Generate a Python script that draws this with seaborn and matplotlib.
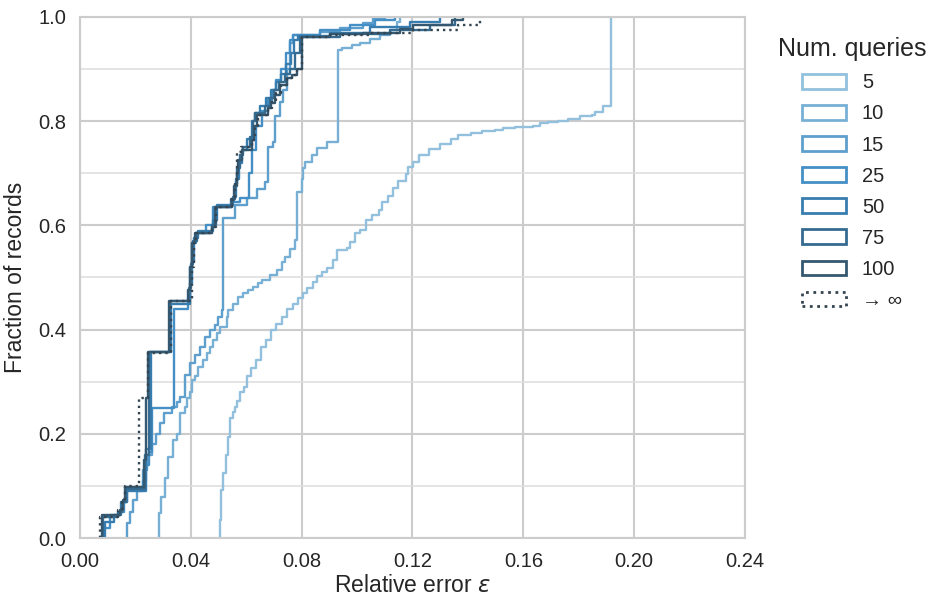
import numpy as np
import pandas as pd
import matplotlib
matplotlib.use("Agg")
import matplotlib.pyplot as plt
from matplotlib.patches import Patch
import seaborn as sns

# Query counts (legend order) and their labels
queries = ["5", "10", "15", "25", "50", "75", "100", "inf"]
query_labels = ["5", "10", "15", "25", "50", "75", "100", "\u2192 \u221e"]

# Per-configuration relative errors (distinct values) and the cumulative
# fraction of records reached at each value.
err_5 = [0.0504, 0.0509, 0.0518, 0.0527, 0.0534, 0.0543, 0.0552, 0.0559, 0.0568, 0.0577,
         0.0592, 0.0603, 0.0617, 0.0635, 0.0653, 0.0671, 0.0689, 0.0707, 0.0729, 0.0747,
         0.0769, 0.0787, 0.0805, 0.0819, 0.0841, 0.0855, 0.0873, 0.0891, 0.0913, 0.0928,
         0.0964, 0.0974, 0.0993, 0.1011, 0.1032, 0.1054, 0.1079, 0.1090, 0.1112, 0.1130,
         0.1148, 0.1177, 0.1184, 0.1202, 0.1224, 0.1260, 0.1299, 0.1339, 0.1364, 0.1411,
         0.1451, 0.1498, 0.1527, 0.1570, 0.1635, 0.1660, 0.1689, 0.1725, 0.1761, 0.1805,
         0.1848, 0.1859, 0.1888, 0.1915]
cum_5 = [0.035, 0.092, 0.125, 0.16, 0.194, 0.23, 0.242, 0.252, 0.263, 0.28,
         0.29, 0.31, 0.326, 0.342, 0.367, 0.38, 0.40, 0.41, 0.425, 0.44,
         0.45, 0.46, 0.47, 0.48, 0.492, 0.502, 0.51, 0.518, 0.534, 0.553,
         0.556, 0.569, 0.585, 0.591, 0.61, 0.62, 0.63, 0.645, 0.656, 0.671,
         0.685, 0.699, 0.712, 0.722, 0.735, 0.746, 0.757, 0.766, 0.773, 0.778,
         0.782, 0.784, 0.786, 0.788, 0.791, 0.796, 0.798, 0.80, 0.804, 0.809,
         0.812, 0.818, 0.83, 1.0]

err_10 = [0.0285, 0.0292, 0.0307, 0.0319, 0.0337, 0.0349, 0.0361, 0.0379, 0.0385, 0.0397,
          0.0403, 0.0415, 0.0427, 0.0445, 0.0457, 0.0469, 0.0481, 0.0493, 0.0505, 0.0529,
          0.0535, 0.0553, 0.0571, 0.0589, 0.0607, 0.0625, 0.0642, 0.0657, 0.0686, 0.0711,
          0.0729, 0.0740, 0.0758, 0.0776, 0.0783, 0.0800, 0.0806, 0.0812, 0.0836, 0.0854,
          0.0890, 0.0931, 0.0944, 0.0981, 0.1011, 0.1047, 0.1083, 0.1119, 0.1143, 0.1155]
cum_10 = [0.048, 0.079, 0.115, 0.156, 0.188, 0.20, 0.24, 0.252, 0.268, 0.28,
          0.303, 0.31, 0.329, 0.342, 0.355, 0.367, 0.38, 0.393, 0.405, 0.425,
          0.438, 0.45, 0.463, 0.47, 0.476, 0.482, 0.49, 0.495, 0.505, 0.515,
          0.53, 0.54, 0.555, 0.572, 0.664, 0.69, 0.71, 0.722, 0.735, 0.749,
          0.76, 0.936, 0.94, 0.946, 0.95, 0.958, 0.965, 0.975, 0.99, 1.0]

err_15 = [0.0169, 0.0180, 0.0191, 0.0205, 0.0228, 0.0241, 0.0247, 0.0260, 0.0274, 0.0289,
          0.0303, 0.0331, 0.0349, 0.0361, 0.0379, 0.0397, 0.0415, 0.0433, 0.0451, 0.0469,
          0.0487, 0.0499, 0.0511, 0.0516, 0.0559, 0.0602, 0.0638, 0.0668, 0.0679, 0.0697,
          0.0704, 0.0722, 0.0733, 0.0746, 0.0758, 0.0769, 0.0866, 0.0938, 0.1021, 0.1057,
          0.1101]
cum_15 = [0.028, 0.05, 0.073, 0.09, 0.13, 0.14, 0.16, 0.18, 0.20, 0.22,
          0.24, 0.252, 0.262, 0.271, 0.313, 0.336, 0.351, 0.367, 0.386, 0.40,
          0.409, 0.425, 0.438, 0.614, 0.64, 0.652, 0.67, 0.684, 0.751, 0.76,
          0.81, 0.837, 0.86, 0.90, 0.95, 0.965, 0.972, 0.979, 0.988, 0.998,
          1.0]

err_25 = [0.0087, 0.0108, 0.0144, 0.0159, 0.0170, 0.0227, 0.0238, 0.0249, 0.0260, 0.0339,
          0.0390, 0.0397, 0.0404, 0.0419, 0.0455, 0.0480, 0.0549, 0.0577, 0.0610, 0.0621,
          0.0635, 0.0657, 0.0679, 0.0693, 0.0707, 0.0725, 0.0743, 0.0758, 0.0769, 0.0866,
          0.0974, 0.1065, 0.1137]
cum_25 = [0.02, 0.044, 0.05, 0.07, 0.095, 0.11, 0.14, 0.165, 0.25, 0.44,
          0.46, 0.52, 0.566, 0.585, 0.60, 0.636, 0.645, 0.652, 0.70, 0.745,
          0.79, 0.82, 0.84, 0.86, 0.88, 0.90, 0.93, 0.955, 0.965, 0.975,
          0.985, 0.995, 1.0]

err_50 = [0.0090, 0.0123, 0.0148, 0.0170, 0.0238, 0.0256, 0.0328, 0.0397, 0.0404, 0.0411,
          0.0426, 0.0480, 0.0494, 0.0552, 0.0563, 0.0574, 0.0585, 0.0603, 0.0621, 0.0632,
          0.0650, 0.0671, 0.0689, 0.0707, 0.0725, 0.0743, 0.0762, 0.0772, 0.0787, 0.0902,
          0.1047, 0.1191, 0.1299]
cum_50 = [0.03, 0.045, 0.07, 0.09, 0.17, 0.357, 0.45, 0.49, 0.53, 0.575,
          0.59, 0.61, 0.64, 0.655, 0.69, 0.72, 0.745, 0.765, 0.80, 0.815,
          0.83, 0.845, 0.86, 0.875, 0.89, 0.91, 0.93, 0.955, 0.963, 0.97,
          0.98, 0.99, 1.0]

err_75 = [0.0083, 0.0137, 0.0152, 0.0166, 0.0235, 0.0249, 0.0325, 0.0393, 0.0401, 0.0408,
          0.0422, 0.0476, 0.0491, 0.0545, 0.0559, 0.0568, 0.0577, 0.0588, 0.0614, 0.0624,
          0.0633, 0.0668, 0.0686, 0.0700, 0.0718, 0.0740, 0.0758, 0.0776, 0.0794, 0.0938,
          0.1119, 0.1263, 0.1353]
cum_75 = [0.04, 0.05, 0.07, 0.095, 0.16, 0.357, 0.455, 0.48, 0.525, 0.57,
          0.585, 0.60, 0.636, 0.65, 0.68, 0.71, 0.735, 0.75, 0.77, 0.80,
          0.815, 0.83, 0.845, 0.86, 0.875, 0.89, 0.90, 0.93, 0.962, 0.968,
          0.975, 0.985, 1.0]

err_100 = [0.0079, 0.0144, 0.0155, 0.0162, 0.0231, 0.0238, 0.0245, 0.0321, 0.0390, 0.0397,
           0.0403, 0.0415, 0.0475, 0.0487, 0.0549, 0.0556, 0.0566, 0.0571, 0.0584, 0.0620,
           0.0628, 0.0638, 0.0680, 0.0689, 0.0704, 0.0722, 0.0746, 0.0764, 0.0782, 0.0800,
           0.0902, 0.1021, 0.1155, 0.1202, 0.1341, 0.1382]
cum_100 = [0.044, 0.054, 0.073, 0.098, 0.15, 0.268, 0.357, 0.455, 0.476, 0.52,
           0.566, 0.585, 0.597, 0.636, 0.649, 0.675, 0.70, 0.726, 0.745, 0.764,
           0.79, 0.812, 0.825, 0.835, 0.85, 0.87, 0.883, 0.889, 0.90, 0.962,
           0.967, 0.97, 0.976, 0.985, 0.994, 1.0]

err_inf = [0.0072, 0.0137, 0.0152, 0.0162, 0.0213, 0.0245, 0.0328, 0.0404, 0.0411, 0.0419,
           0.0476, 0.0491, 0.0549, 0.0559, 0.0567, 0.0581, 0.0621, 0.0632, 0.0642, 0.0679,
           0.0693, 0.0707, 0.0725, 0.0747, 0.0765, 0.0783, 0.0801, 0.0902, 0.1047, 0.1202,
           0.1364, 0.1444]
cum_inf = [0.04, 0.054, 0.075, 0.10, 0.268, 0.355, 0.455, 0.52, 0.566, 0.585,
           0.597, 0.636, 0.65, 0.68, 0.74, 0.75, 0.764, 0.79, 0.812, 0.825,
           0.84, 0.855, 0.87, 0.883, 0.889, 0.90, 0.962, 0.966, 0.97, 0.975,
           0.985, 1.0]

x_ticks = [0.00, 0.04, 0.08, 0.12, 0.16, 0.20, 0.24]
y_ticks = [0.0, 0.2, 0.4, 0.6, 0.8, 1.0]

series = {
    "5": (err_5, cum_5), "10": (err_10, cum_10), "15": (err_15, cum_15),
    "25": (err_25, cum_25), "50": (err_50, cum_50), "75": (err_75, cum_75),
    "100": (err_100, cum_100), "inf": (err_inf, cum_inf),
}

frames = []
for q in queries:
    e, c = series[q]
    w = np.diff(np.r_[0.0, c])  # share of records at each error value
    frames.append(pd.DataFrame({"err": e, "w": w, "queries": q}))
df = pd.concat(frames, ignore_index=True)

sns.set_theme(style="whitegrid")
plt.rcParams["font.family"] = ["Liberation Sans", "DejaVu Sans"]
plt.rcParams["mathtext.fontset"] = "dejavusans"

palette = sns.color_palette("Blues_d", len(queries))

fig = plt.figure(figsize=(9.33, 6.0), dpi=100)
ax = fig.add_axes([0.0857, 0.1033, 0.7128, 0.8684])

for q, col in zip(queries, palette):
    sub = df[df["queries"] == q]
    sns.ecdfplot(data=sub, x="err", weights="w", ax=ax, color=col,
                 linewidth=1.7, linestyle=":" if q == "inf" else "-")

ax.set_xlim(0, 0.24)
ax.set_ylim(0, 1.0)
ax.set_xticks(x_ticks)
ax.set_xticklabels([f"{t:.2f}" for t in x_ticks])
ax.set_yticks(y_ticks)
ax.set_yticklabels([f"{t:.1f}" for t in y_ticks])
ax.set_yticks(np.arange(0.1, 1.0, 0.2), minor=True)
ax.grid(True, which="major", color="#cccccc", linewidth=1.5)
ax.grid(True, which="minor", axis="y", color="#dddddd", linewidth=1.1)
ax.tick_params(axis="both", which="major", labelsize=14.5, colors="#262626", pad=4)
for sp in ax.spines.values():
    sp.set_color("#cccccc")
    sp.set_linewidth(1.5)

ax.set_xlabel(r"Relative error $\varepsilon$", fontsize=16.5, color="#262626", labelpad=2)
ax.set_ylabel("Fraction of records", fontsize=16.5, color="#262626", labelpad=8)

handles = [Patch(facecolor="none", edgecolor=col, linewidth=2,
                 linestyle=":" if q == "inf" else "-")
           for q, col in zip(queries, palette)]
fig.legend(handles, query_labels, title="Num. queries", loc="upper left",
           bbox_to_anchor=(0.814, 0.968), frameon=False, fontsize=14.5,
           title_fontsize=18, handlelength=2.2, handleheight=0.75,
           labelspacing=0.6, handletextpad=0.8)

fig.savefig("out.png", dpi=100)
